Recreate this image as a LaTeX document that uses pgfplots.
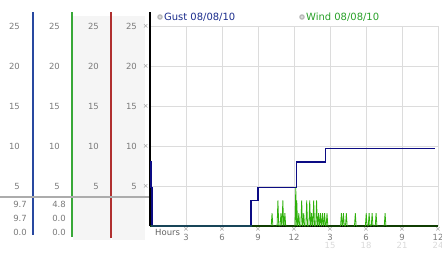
\documentclass[border=0pt]{standalone}
\usepackage{pgfplots}
\pgfplotsset{compat=1.18}
\usepackage{fontspec}
\setmainfont{DejaVu Sans}
\definecolor{gustc}{HTML}{0C0C84}
\definecolor{windc}{HTML}{2EB00A}
\definecolor{gusttxt}{HTML}{1A2C8C}
\definecolor{windtxt}{HTML}{28A028}
\definecolor{colbg}{HTML}{F5F5F5}
\definecolor{lblue}{HTML}{2848A0}
\definecolor{lgreen}{HTML}{38A838}
\definecolor{lred}{HTML}{B03030}
\definecolor{tickc}{HTML}{7A7A7A}
\definecolor{gridc}{HTML}{DCDCDC}
\newcommand{\refm}{{\fontsize{7}{7}\selectfont\textcolor{gray!80}{×}}}
\newcommand{\tk}[2]{\refm\\[-0.5bp]#1\\[-1bp]\textcolor{gray!30}{#2}}
\pgfplotsset{colax/.style={at={(#1bp,27bp)}, anchor=south west, scale only axis,
  width=1bp, height=200bp, xmin=0, xmax=1, ymin=0, ymax=25,
  hide x axis, axis y line*=left, axis line style={draw=none},
  ytick={5,10,15,20,25}, yticklabels={5,10,15,20,25}, major tick length=0pt,
  yticklabel style={anchor=east, inner sep=0pt, font=\fontsize{8.5}{9}\selectfont, text=tickc}}}
\begin{document}
\begin{tikzpicture}
\path[use as bounding box] (0bp,0bp) rectangle (442bp,253bp);
\fill[colbg] (73bp,13bp) rectangle (111bp,237bp);
\fill[colbg] (112bp,13bp) rectangle (145bp,237bp);
\draw[lblue, line width=1.2bp] (33bp,18bp) -- (33bp,241bp);
\draw[lgreen, line width=1.2bp] (72bp,16bp) -- (72bp,241bp);
\draw[lred, line width=1.2bp] (111bp,15bp) -- (111bp,241bp);
\draw[gray!65, line width=2bp] (0bp,56bp) -- (149bp,56bp);
\begin{axis}[colax=20]\end{axis}
\begin{axis}[colax=60]\end{axis}
\begin{axis}[colax=99]\end{axis}
\begin{axis}[colax=137]\end{axis}
\begin{scope}[every node/.style={anchor=east, inner sep=0pt, font=\fontsize{8.5}{9}\selectfont, text=tickc}]
\node at (27bp,49bp) {9.7};
\node at (27bp,35bp) {9.7};
\node at (27bp,21bp) {0.0};
\node at (66bp,49bp) {4.8};
\node at (66bp,35bp) {0.0};
\node at (66bp,21bp) {0.0};
\end{scope}
\begin{axis}[at={(150bp,27bp)}, anchor=south west, scale only axis,
  width=288bp, height=200bp, xmin=0, xmax=24, ymin=0, ymax=25,
  axis x line*=bottom, axis y line*=left,
  axis line style={black, line width=1.3bp, -},
  xtick={3,6,...,24}, ytick={5,10,...,25},
  grid=major, grid style={gridc, line width=0.9bp},
  major tick length=0pt,
  yticklabels={\refm,\refm,\refm,\refm,\refm},
  yticklabel style={inner sep=1bp},
  xticklabels={\tk{3}{},\tk{6}{},\tk{9}{},\tk{12}{},\tk{3}{15},\tk{6}{18},\tk{9}{21},\tk{12}{24}},
  xticklabel style={align=center, anchor=north, inner sep=0pt, yshift=-1.5bp, font=\fontsize{8.5}{9}\selectfont, text=tickc},
  clip=false]
\addplot[gustc, line width=1.4bp] coordinates {
(0,8.0) (0.08,8.0) (0.08,4.8) (0.18,4.8) (0.18,0) (8.43,0) (8.43,3.2) (9.0,3.2) (9.0,4.8)
(12.23,4.8) (12.23,8.0) (14.63,8.0) (14.63,9.7) (23.75,9.7)};
\addplot[windc, line width=0.8bp] coordinates {
(0,0) (10.1,0) (10.17,1.6) (10.24,0) (10.59,0) (10.66,3.2) (10.73,0)
(10.84,0) (10.91,1.6) (10.98,0) (11.0,0) (11.07,3.2) (11.14,0) (11.17,0) (11.24,1.6) (11.31,0)
(12.08,0) (12.15,4.8) (12.19,0) (12.19,0) (12.23,3.2) (12.3,0) (12.33,0) (12.40,1.6) (12.47,0)
(12.57,0) (12.64,3.2) (12.71,0) (12.74,0) (12.81,1.6) (12.88,0) (12.99,0) (13.06,3.2) (13.13,0)
(13.24,0) (13.31,3.2) (13.38,0) (13.40,0) (13.47,1.6) (13.54,0) (13.57,0) (13.64,3.2) (13.71,0)
(13.81,0) (13.88,3.2) (13.95,0) (13.98,0) (14.05,1.6) (14.12,0) (14.14,0) (14.21,1.6) (14.28,0)
(14.31,0) (14.38,1.6) (14.45,0) (14.48,0) (14.55,1.6) (14.62,0) (14.68,0) (14.75,1.6) (14.82,0)
(15.88,0) (15.95,1.6) (16.02,0) (16.05,0) (16.12,1.6) (16.19,0) (16.29,0) (16.36,1.6) (16.43,0)
(17.04,0) (17.11,1.6) (17.18,0) (17.95,0) (18.02,1.6) (18.09,0) (18.19,0) (18.26,1.6) (18.33,0)
(18.44,0) (18.51,1.6) (18.58,0) (18.77,0) (18.84,1.6) (18.91,0) (19.52,0) (19.59,1.6) (19.66,0)
(24,0)};
\draw[black, line width=1.3bp] (axis cs:0,25) -- ++(0,14bp);
\node[anchor=west, inner sep=0pt, font=\fontsize{8.5}{9}\selectfont, text=gray!75!black] at (axis cs:0,0) [xshift=5bp, yshift=-6.5bp] {Hours};
\end{axis}
\begin{scope}[every node/.style={anchor=west, inner sep=0pt, font=\fontsize{10}{11}\selectfont}]
\fill[gray!55] (160bp,236bp) circle (2.8bp); \fill[gray!25] (160bp,236bp) circle (1.4bp);
\node[text=gusttxt] at (164bp,236bp) {Gust 08/08/10};
\fill[gray!55] (302bp,236bp) circle (2.8bp); \fill[gray!25] (302bp,236bp) circle (1.4bp);
\node[text=windtxt] at (306bp,236bp) {Wind 08/08/10};
\end{scope}
\end{tikzpicture}
\end{document}
